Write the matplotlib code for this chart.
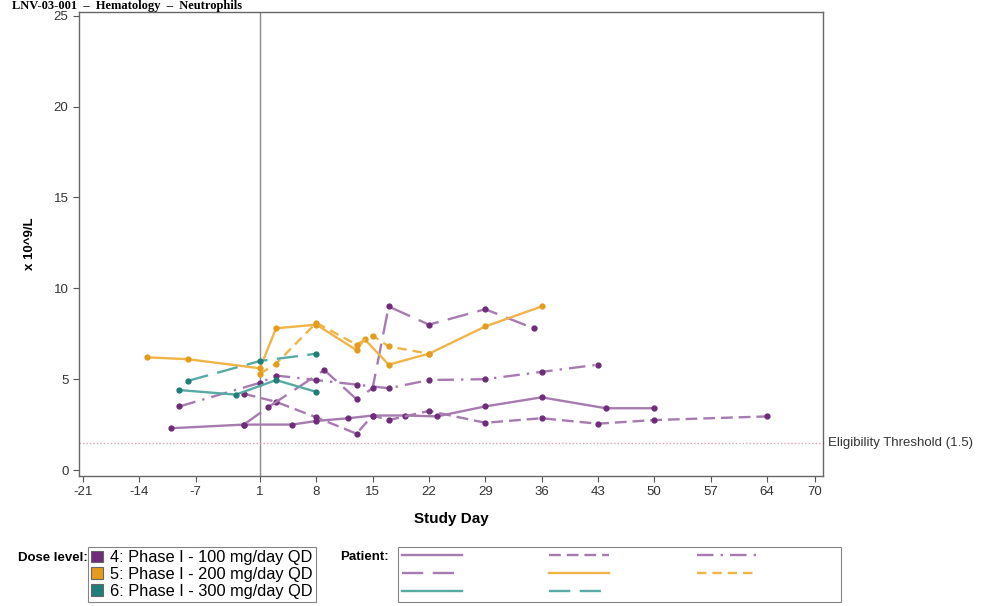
import matplotlib
matplotlib.use("Agg")
import matplotlib.pyplot as plt
from matplotlib.lines import Line2D
from matplotlib.patches import Patch

# data (study day, x10^9/L)
p1_day = [-10, -1, 5, 8, 12, 15, 19, 23, 29, 36, 44, 50]
p1_val = [2.3, 2.5, 2.5, 2.7, 2.85, 3.0, 3.0, 2.95, 3.5, 4.0, 3.4, 3.4]
p2_day = [-1, 3, 8, 13, 15, 17, 22, 29, 36, 43, 50, 64]
p2_val = [4.2, 3.75, 2.9, 2.0, 3.0, 2.75, 3.25, 2.6, 2.85, 2.55, 2.75, 2.95]
p3_day = [-9, 1, 3, 8, 13, 17, 22, 29, 36, 43]
p3_val = [3.5, 4.8, 5.2, 4.95, 4.7, 4.5, 4.95, 5.0, 5.4, 5.8]
p4_day = [-1, 2, 9, 13, 15, 17, 22, 29, 35]
p4_val = [2.5, 3.45, 5.5, 3.9, 4.5, 9.0, 8.0, 8.85, 7.8]
o1_day = [-13, -8, 1, 3, 8, 13, 14, 17, 22, 29, 36]
o1_val = [6.2, 6.1, 5.6, 7.8, 8.0, 6.6, 7.2, 5.8, 6.4, 7.9, 9.0]
o2_day = [1, 3, 8, 13, 15, 17, 22]
o2_val = [5.3, 5.85, 8.1, 6.9, 7.4, 6.8, 6.4]
t1_day = [-9, -2, 3, 8]
t1_val = [4.4, 4.15, 4.95, 4.3]
t2_day = [-8, 1, 8]
t2_val = [4.9, 6.0, 6.4]

threshold = 1.5
x_ticks = [-21, -14, -7, 1, 8, 15, 22, 29, 36, 43, 50, 57, 64, 70]
y_ticks = [0, 5, 10, 15, 20, 25]
dose_labels = ["4: Phase I - 100 mg/day QD", "5: Phase I - 200 mg/day QD",
               "6: Phase I - 300 mg/day QD"]

PURPLE_L, PURPLE_D = "#a77bb0", "#6e2c79"
ORANGE_L, ORANGE_D = "#f0b448", "#e59b1c"
TEAL_L, TEAL_D = "#58aaa4", "#1f7f78"

SOLID = "-"
DASH = (0, (5, 2.5))
DASHDOT = (0, (7, 3, 1, 3))
LONGDASH = (0, (9, 4))
SHORTDASH = (0, (4, 2.5))

plt.rcParams["axes.unicode_minus"] = False
plt.rcParams["font.family"] = ["Liberation Sans", "DejaVu Sans"]

fig = plt.figure(figsize=(9.99, 6.06), dpi=100)
ax = fig.add_axes([0.079, 0.2145, 0.745, 0.7655])

series = [
    (p1_day, p1_val, PURPLE_L, PURPLE_D, SOLID),
    (p2_day, p2_val, PURPLE_L, PURPLE_D, DASH),
    (p3_day, p3_val, PURPLE_L, PURPLE_D, DASHDOT),
    (p4_day, p4_val, PURPLE_L, PURPLE_D, LONGDASH),
    (o1_day, o1_val, ORANGE_L, ORANGE_D, SOLID),
    (o2_day, o2_val, ORANGE_L, ORANGE_D, SHORTDASH),
    (t1_day, t1_val, TEAL_L, TEAL_D, SOLID),
    (t2_day, t2_val, TEAL_L, TEAL_D, LONGDASH),
]
handles = []
for d, v, cl, cd, ls in series:
    ax.plot(d, v, color=cl, lw=1.7, ls=ls, marker="o", ms=3.5,
            mfc=cd, mec=cd, zorder=3)
    handles.append(Line2D([], [], color=cl, lw=1.7, ls=ls))

ax.axvline(1, color="#8a8a8a", lw=1, zorder=1)
ax.axhline(threshold, color="#e2a0b4", lw=1, ls=(0, (1, 1.5)), zorder=1)
ax.text(70.0 + 1.6, threshold, "Eligibility Threshold (1.5)", fontsize=9.5,
        va="center", ha="left", color="#333333")

ax.set_xlim(-21.5, 71.0)
ax.set_ylim(-0.33, 25.2)
ax.set_xticks(x_ticks)
ax.set_yticks(y_ticks)
ax.tick_params(labelsize=9.5, length=4, color="#555555", labelcolor="#333333")
for s in ax.spines.values():
    s.set_color("#666666")
    s.set_linewidth(1)
ax.set_xlabel("Study Day", fontsize=11, fontweight="bold", labelpad=10)
ax.set_ylabel("x 10^9/L", fontsize=9.5, fontweight="bold", labelpad=13)

# title sitting at the top edge
fig.text(0.012, 1 - 9 / 606, "LNV-03-001  \u2013  Hematology  \u2013  Neutrophils",
         fontsize=9, fontweight="bold", family=["Liberation Serif", "DejaVu Serif"],
         va="baseline", ha="left")

# dose level legend
fig.text(18 / 999, 1 - 558 / 606, "Dose level:", fontsize=9.5, fontweight="bold",
         va="center", ha="left")
dose_handles = [Patch(facecolor=c, edgecolor="#666666", lw=0.8)
                for c in [PURPLE_D, ORANGE_D, TEAL_D]]
leg1 = fig.legend(dose_handles, dose_labels, loc="upper left",
                  bbox_to_anchor=(88 / 999, 1 - 547 / 606),
                  frameon=True, fancybox=False, borderpad=0.2,
                  labelspacing=0.1, handlelength=0.7, handleheight=0.7,
                  handletextpad=0.45, borderaxespad=0, prop={"size": 11.8})
leg1.get_frame().set_edgecolor("#666666")
leg1.get_frame().set_linewidth(0.8)

# patient legend (column-wise order)
fig.text(340 / 999, 1 - 557 / 606, "Patient:", fontsize=9.5, fontweight="bold",
         va="center", ha="left")
order = [0, 3, 6, 1, 4, 7, 2, 5]
pat_labels = ["", "", "", "", "", "", " " * 23, " " * 23]
leg2 = fig.legend([handles[i] for i in order], pat_labels, loc="upper left",
                  bbox_to_anchor=(398 / 999, 1 - 547 / 606), ncol=3,
                  frameon=True, fancybox=False, borderpad=0.3,
                  labelspacing=0.45, handlelength=4.8, handletextpad=0.0,
                  columnspacing=7.0, borderaxespad=0, prop={"size": 9})
leg2.get_frame().set_edgecolor("#666666")
leg2.get_frame().set_linewidth(0.8)

fig.savefig("out.png", dpi=100)
